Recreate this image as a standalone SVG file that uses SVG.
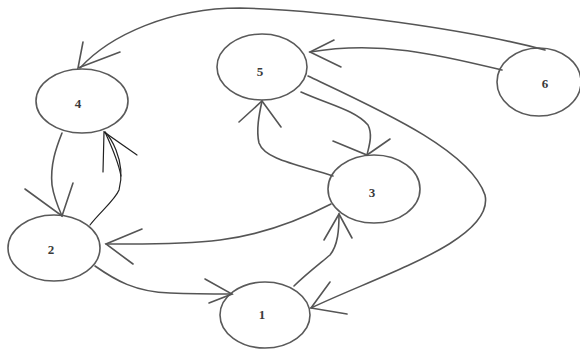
<svg xmlns="http://www.w3.org/2000/svg" width="580" height="349" viewBox="0 0 580 349">
<style>
.n{fill:#fff;stroke:#5a5a5a;stroke-width:1.6}
.e{fill:none;stroke:#555;stroke-width:1.6;stroke-linecap:round}
.k{fill:none;stroke:#222;stroke-width:1.2;stroke-linecap:round}
.t{font-family:"Liberation Serif",serif;font-weight:bold;font-size:13px;fill:#3a3a3a;text-anchor:middle}
</style>
<rect width="580" height="349" fill="#fff"/>
<g id="nodes">
<g id="node4"><ellipse class="n" cx="82" cy="101" rx="46" ry="32"/><text class="t" x="78" y="108">4</text></g>
<g id="node5"><ellipse class="n" cx="262" cy="67" rx="45" ry="33"/><text class="t" x="260" y="76">5</text></g>
<g id="node6"><ellipse class="n" cx="539" cy="82" rx="42" ry="34"/><text class="t" x="545" y="88">6</text></g>
<g id="node3"><ellipse class="n" cx="374" cy="189" rx="46" ry="34"/><text class="t" x="372" y="197">3</text></g>
<g id="node2"><ellipse class="n" cx="54" cy="248" rx="46" ry="33"/><text class="t" x="51" y="254">2</text></g>
<g id="node1"><ellipse class="n" cx="265" cy="315" rx="45" ry="33"/><text class="t" x="262" y="319">1</text></g>
</g>
<g id="connectors">
<!-- 6 to 4 -->
<path class="e" d="M545 50 C470 30 330 10 240 8 C170 8 110 35 80 68"/>
<path class="e" d="M83 42 L78 68 L120 52"/>
<!-- 6 to 5 -->
<path class="e" d="M502 70 C440 55 380 40 310 52"/>
<path class="e" d="M334 40 L310 52 L341 67"/>
<!-- 5 to 3 -->
<path class="e" d="M301 92 C330 105 355 110 368 125 C373 135 369 146 367 155"/>
<path class="e" d="M333 141 L367 155 L390 139"/>
<!-- 5 to 1 -->
<path class="e" d="M308 76 C380 110 470 150 485 195 C495 240 380 275 311 308"/>
<path class="e" d="M330 282 L311 308 L347 314"/>
<!-- 3 to 5 -->
<path class="e" d="M333 176 C300 165 265 160 259 143 C256 130 259 115 262 101"/>
<path class="e" d="M239 122 L262 101 L281 127"/>
<!-- 3 to 2 -->
<path class="e" d="M331 204 C300 220 260 235 220 240 C180 245 140 244 106 244"/>
<path class="e" d="M142 229 L106 244 L133 264"/>
<!-- 2 to 1 -->
<path class="e" d="M95 266 C115 280 135 292 170 293 C195 294 215 294 232 294"/>
<path class="e" d="M205 279 L232 294 L209 303"/>
<!-- 1 to 3 -->
<path class="e" d="M294 286 C305 275 318 265 330 255 C338 245 339 230 339 214"/>
<path class="e" d="M324 240 L339 214 L352 238"/>
<!-- 4 to 2 -->
<path class="e" d="M62 133 C56 148 50 165 52 185 C54 198 58 207 62 216"/>
<path class="e" d="M25 189 L62 216 L73 183"/>
<!-- 2 to 4 -->
<path class="k" d="M90 225 C100 212 115 200 119 190 C123 175 120 160 116 150 C112 140 108 135 105 132"/>
<path class="k" d="M103 172 L104 132 L137 155"/>
<path class="k" d="M121 176 C118 160 111 145 105 132"/>
</g>
</svg>
